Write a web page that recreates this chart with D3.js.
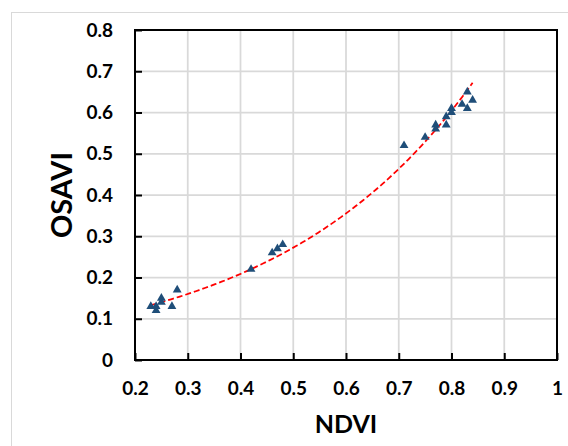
<!DOCTYPE html>
<html>
<head>
<meta charset="utf-8">
<script src="https://cdn.jsdelivr.net/npm/d3@7"></script>
<style>
  html, body { margin: 0; padding: 0; background: #fff; }
  svg { display: block; }
  text { font-family: Lato, "Open Sans", sans-serif; font-weight: bold; fill: #000; }
</style>
</head>
<body>
<svg id="chart" width="568" height="446"></svg>
<script>
const ndvi  = [0.23,0.24,0.24,0.25,0.25,0.27,0.28,0.42,0.46,0.47,0.48,0.71,0.75,0.77,0.77,0.79,0.79,0.80,0.80,0.82,0.83,0.83,0.84];
const osavi = [0.13,0.12,0.13,0.15,0.14,0.13,0.17,0.22,0.26,0.27,0.28,0.52,0.54,0.57,0.56,0.59,0.57,0.61,0.60,0.62,0.61,0.65,0.63];
const xTicks = [0.2,0.3,0.4,0.5,0.6,0.7,0.8,0.9,1];
const yTicks = [0,0.1,0.2,0.3,0.4,0.5,0.6,0.7,0.8];
const xTitle = "NDVI";
const yTitle = "OSAVI";

const svg = d3.select("#chart");
const W = 568, H = 446;
const m = {left: 135, right: 557, top: 30, bottom: 360};

svg.append("rect").attr("width", W).attr("height", H).attr("fill", "#fff");
// outer chart-area frame
svg.append("rect").attr("x", 11.5).attr("y", 12.5).attr("width", 700).attr("height", 600)
  .attr("fill", "none").attr("stroke", "#d9d9d9").attr("stroke-width", 1);

const x = d3.scaleLinear().domain([0.2, 1]).range([m.left, m.right]);
const y = d3.scaleLinear().domain([0, 0.8]).range([m.bottom, m.top]);

// gridlines
const grid = svg.append("g");
grid.selectAll(".gx").data(xTicks.slice(1, -1)).join("line")
  .attr("x1", d => x(d)).attr("x2", d => x(d)).attr("y1", m.top).attr("y2", m.bottom)
  .attr("stroke", "#d9d9d9").attr("stroke-width", 1.75);
grid.selectAll(".gy").data(yTicks.slice(1, -1)).join("line")
  .attr("x1", m.left).attr("x2", m.right).attr("y1", d => y(d)).attr("y2", d => y(d))
  .attr("stroke", "#d9d9d9").attr("stroke-width", 1.75);

// axes with inside ticks
const fmt = d => d === 0 ? "0" : d === 1 ? "1" : d3.format(".1f")(d);
const xAxis = svg.append("g").attr("transform", `translate(0,${m.bottom})`)
  .call(d3.axisBottom(x).tickValues(xTicks).tickFormat(fmt).tickSizeInner(-7).tickSizeOuter(0).tickPadding(22));
const yAxis = svg.append("g").attr("transform", `translate(${m.left},0)`)
  .call(d3.axisLeft(y).tickValues(yTicks).tickFormat(fmt).tickSizeInner(-7).tickSizeOuter(0).tickPadding(22));
[xAxis, yAxis].forEach(a => {
  a.select(".domain").remove();
  a.selectAll(".tick line").attr("stroke", "#000").attr("stroke-width", 2);
  a.selectAll(".tick text").style("font-size", "19px").attr("fill", "#000");
});
xAxis.selectAll(".tick text").attr("dy", "0.71em");

// plot frame
svg.append("rect").attr("x", m.left).attr("y", m.top)
  .attr("width", m.right - m.left).attr("height", m.bottom - m.top)
  .attr("fill", "none").attr("stroke", "#000").attr("stroke-width", 2);

// exponential trendline, least squares on ln(y)
const n = ndvi.length;
const ly = osavi.map(Math.log);
const mx = d3.mean(ndvi), my = d3.mean(ly);
let sxy = 0, sxx = 0;
for (let i = 0; i < n; i++) { sxy += (ndvi[i]-mx)*(ly[i]-my); sxx += (ndvi[i]-mx)**2; }
const b = sxy / sxx, a = Math.exp(my - b*mx);
const x0 = d3.min(ndvi), x1 = d3.max(ndvi);
const tl = d3.range(0, 101).map(i => { const xv = x0 + (x1-x0)*i/100; return [xv, a*Math.exp(b*xv)]; });
svg.append("path").datum(tl)
  .attr("d", d3.line().x(d => x(d[0])).y(d => y(d[1])))
  .attr("fill", "none").attr("stroke", "#ff0000").attr("stroke-width", 1.75)
  .attr("stroke-dasharray", "6,3");

// points
svg.append("g").selectAll("path").data(ndvi.map((v, i) => [v, osavi[i]])).join("path")
  .attr("d", d3.symbol(d3.symbolTriangle, 34))
  .attr("transform", d => `translate(${x(d[0])},${y(d[1])})`)
  .attr("fill", "#1f4e79");

// titles
svg.append("text").attr("x", (m.left + m.right)/2).attr("y", 433)
  .attr("text-anchor", "middle").style("font-size", "25px").text(xTitle);
svg.append("text").attr("transform", `translate(72,${(m.top + m.bottom)/2}) rotate(-90)`)
  .attr("text-anchor", "middle").style("font-size", "29px").text(yTitle);
</script>
</body>
</html>
